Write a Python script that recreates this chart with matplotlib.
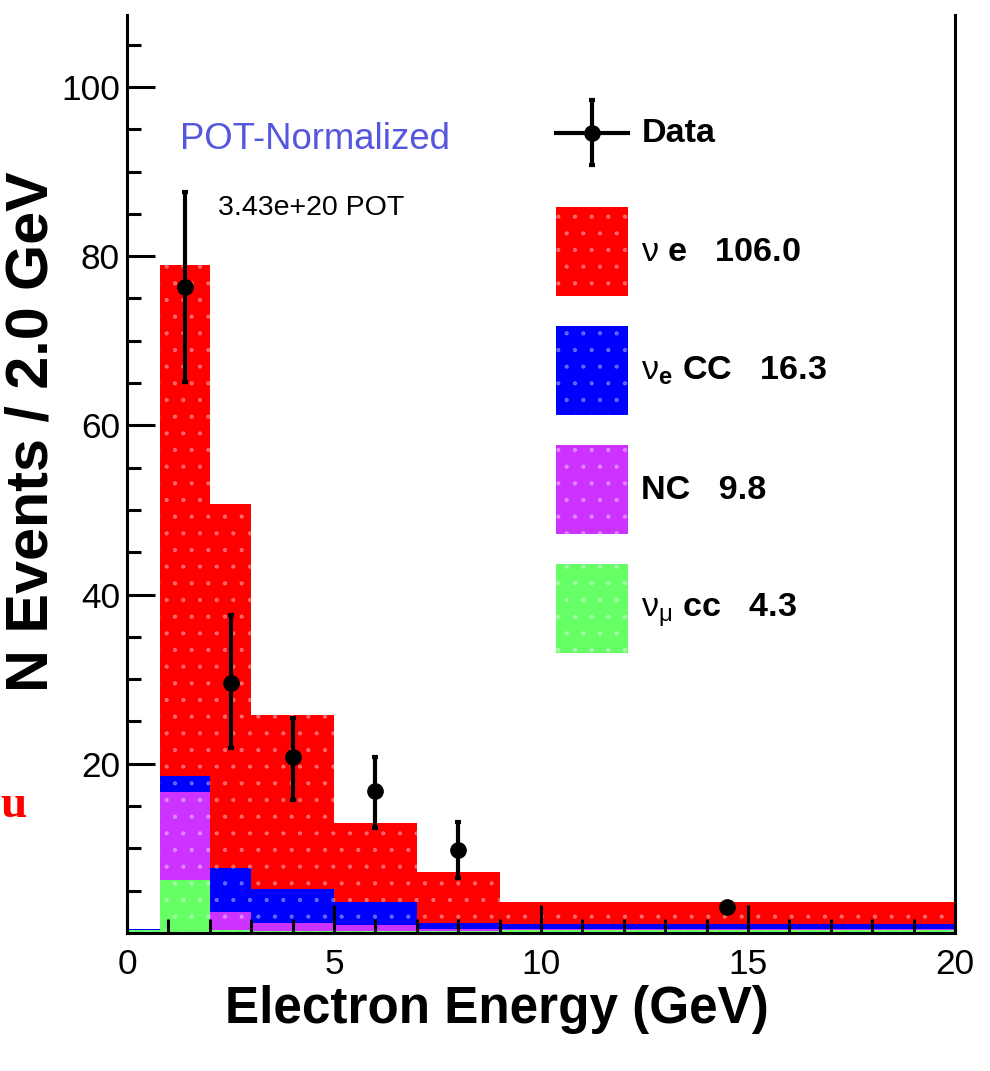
import numpy as np
import matplotlib
matplotlib.use('Agg')
import matplotlib.pyplot as plt
from matplotlib import font_manager
from matplotlib.lines import Line2D
from matplotlib.legend_handler import HandlerTuple, HandlerErrorbar

# bin edges (GeV) and stacked MC components, bottom to top
edges = [0, 0.8, 2, 3, 5, 7, 9, 20]
numu_cc = [0.3, 6.2, 0.3, 0.2, 0.2, 0.2, 0.35]
nc = [0.0, 10.5, 2.2, 1.0, 0.7, 0.3, 0.1]
nue_cc = [0.2, 1.8, 5.2, 4.0, 2.8, 0.7, 0.65]
nu_e = [0.0, 60.5, 43.0, 20.6, 9.3, 6.0, 2.6]

# data points
data_x = [1.4, 2.5, 4.0, 6.0, 8.0, 14.5]
data_y = [76.4, 29.6, 20.8, 16.8, 9.8, 3.1]
err_lo = [11.3, 7.7, 5.1, 4.4, 3.3, 0.0]
err_hi = [11.2, 8.0, 4.6, 4.0, 3.3, 0.0]

labels = [r'$\nu$ e   106.0', r'$\nu_{\mathbf{e}}$ CC   16.3', 'NC   9.8', r'$\nu_{\mu}$ cc   4.3']
colors = ['#ff0000', '#0000ff', '#cc33ff', '#66ff66']

names = {f.name for f in font_manager.fontManager.ttflist}
narrow = 'Liberation Sans Narrow' in names
fam = ['Liberation Sans Narrow', 'Liberation Sans', 'DejaVu Sans'] if narrow else ['Liberation Sans', 'DejaVu Sans']
k = 1.0 if narrow else 0.82

plt.rcParams['font.family'] = fam
plt.rcParams['mathtext.fontset'] = 'custom'
plt.rcParams['mathtext.rm'] = 'Liberation Sans'
plt.rcParams['mathtext.it'] = 'Liberation Sans'
plt.rcParams['mathtext.bf'] = 'Liberation Sans:bold'
plt.rcParams['mathtext.default'] = 'rm'
plt.rcParams['hatch.linewidth'] = 0.6


class CenteredTuple(HandlerTuple):
    # put the data marker in the middle of its legend row
    def create_artists(self, legend, orig_handle, xdescent, ydescent,
                       width, height, fontsize, trans):
        return super().create_artists(legend, orig_handle, xdescent, 2 * ydescent,
                                      width, height, fontsize, trans)


fig = plt.figure(figsize=(9.9, 10.71), dpi=100)
ax = fig.add_axes([0.1283, 0.1289, 0.8364, 0.857])

bottom = np.zeros(len(numu_cc))
patches = {}
for vals, col, key in [(numu_cc, colors[3], 'g'), (nc, colors[2], 'm'),
                       (nue_cc, colors[1], 'b'), (nu_e, colors[0], 'r')]:
    top = bottom + np.array(vals)
    patches[key] = ax.stairs(top, edges, baseline=bottom, fill=True, facecolor=col,
                             edgecolor=(1, 1, 1, 0.35), linewidth=0, hatch='.')
    bottom = top

eb = ax.errorbar(data_x, data_y, yerr=[err_lo, err_hi], fmt='o', color='black',
                 markersize=11, elinewidth=3, capsize=2.5, capthick=3, zorder=5)

ax.set_xlim(0, 20)
ax.set_ylim(0, 108.5)
ax.set_xticks([0, 5, 10, 15, 20])
ax.set_xticks(np.arange(0, 21, 1), minor=True)
ax.set_yticks([20, 40, 60, 80, 100])
ax.set_yticks(np.arange(5, 106, 5), minor=True)
ax.tick_params(direction='in', which='major', length=20, width=2.2, labelsize=31 * k)
ax.tick_params(direction='in', which='minor', length=10, width=2.2)
ax.tick_params(axis='x', pad=11)
ax.tick_params(axis='y', pad=5)
for s in ['left', 'bottom', 'right']:
    ax.spines[s].set_linewidth(2.2)
ax.spines['top'].set_visible(False)

ax.set_xlabel('Electron Energy (GeV)', fontsize=45 * k, fontweight='bold')
ax.xaxis.set_label_coords(0.447, -0.0565)
ax.set_ylabel('N Events / 2.0 GeV', fontsize=52 * k, fontweight='bold')
ax.yaxis.set_label_coords(-0.0815, 0.546)

ax.text(0.064, 0.865, 'POT-Normalized', transform=ax.transAxes, color='#5555dd',
        fontsize=32 * k, va='center', ha='left')
ax.text(0.11, 0.79, '3.43e+20 POT', transform=ax.transAxes, color='black',
        fontsize=25 * k, va='center', ha='left')

data_handle = (Line2D([], [], color='black', lw=3), eb)
leg = ax.legend([data_handle, patches['r'], patches['b'], patches['m'], patches['g']],
                ['Data'] + labels,
                handler_map={tuple: CenteredTuple(ndivide=1),
                             type(eb): HandlerErrorbar(yerr_size=0.95)},
                loc='upper left', bbox_to_anchor=(0.518, 0.92), frameon=False,
                prop={'size': 30 * k, 'weight': 'bold'}, handlelength=2.1,
                handleheight=3.62, handletextpad=0.4, labelspacing=0.88,
                borderpad=0, borderaxespad=0)

fig.text(0.0, 0.237, 'u', color='red', fontsize=34, fontweight='bold',
         family='Liberation Serif', ha='left', va='baseline')

fig.savefig('out.png', dpi=100)
